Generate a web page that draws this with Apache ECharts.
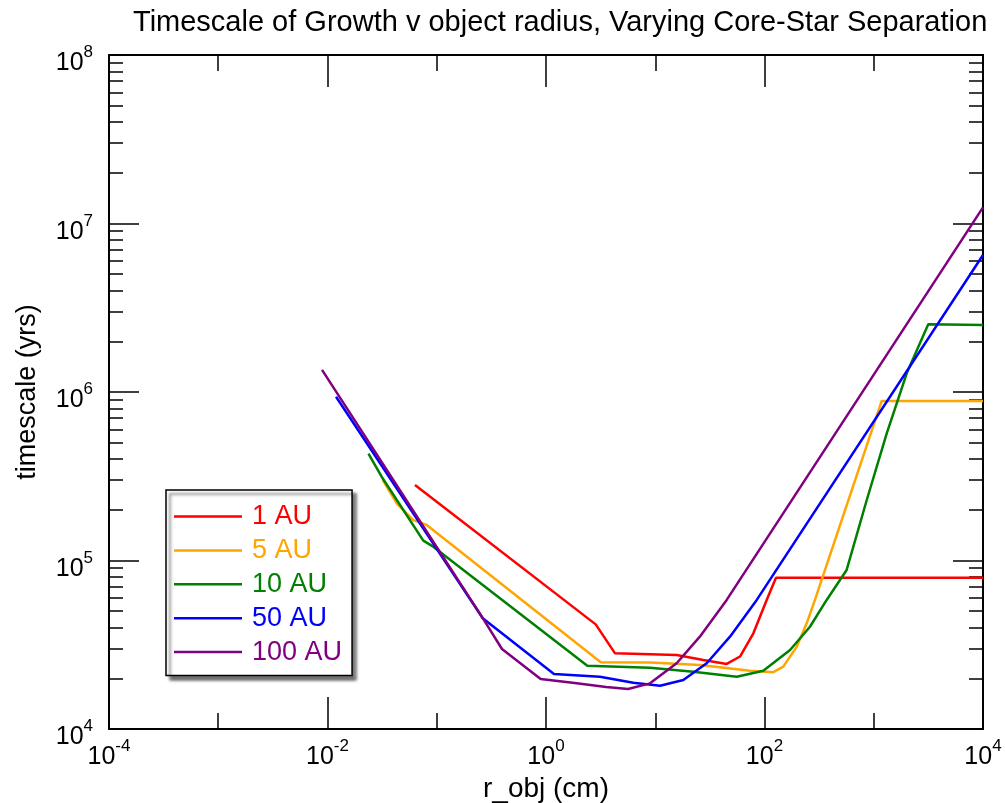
<!DOCTYPE html>
<html>
<head>
<meta charset="utf-8">
<script src="https://cdn.jsdelivr.net/npm/echarts@6/dist/echarts.min.js"></script>
<style>html,body{margin:0;padding:0;background:#fff}#c{width:1005px;height:803px}</style>
</head>
<body>
<div id="c"></div>
<script>
// [r_obj (cm), timescale (yrs)]
const au1 = [[0.0632,2.805e5],[2.851,41780],[4.285,28120],[15.70,27480],[27.54,25640],[45.08,24320],[59.70,26920],[79.07,36980],[104.7,58340],[127.4,79070],[10000,79070]];
const au5 = [[0.0320,3.006e5],[0.0430,2.183e5],[0.0610,1.738e5],[0.0809,1.626e5],[3.170,24890],[8.954,24770],[25.70,23990],[73.62,22180],[120.5,21730],[148.6,23440],[197.2,30760],[243.2,42360],[289.7,58340],[1183,8.85e5],[10000,8.85e5]];
const au10 = [[0.0237,4.305e5],[0.0313,3.141e5],[0.0753,1.312e5],[0.0929,1.208e5],[2.388,23770],[8.954,23120],[22.28,21880],[55.72,20420],[97.5,22180],[171.4,29440],[260.6,40460],[370.7,58340],[564.9,87900],[863,2.286e5],[1315,5.689e5],[2004,1.291e6],[3155,2.523e6],[10000,2.5e6]];
const au50 = [[0.01197,9.376e5],[0.2636,45390],[1.183,21180],[3.119,20420],[6.295,18840],[11.07,18070],[18.07,19540],[29.58,24550],[48.31,35320],[84.92,58340],[10000,6.5e6]];
const au100 = [[0.00891,1.352e6],[0.2594,46240],[0.3954,29850],[0.8933,19820],[1.910,18660],[3.548,17780],[5.636,17260],[8.954,18660],[15.70,24550],[25.59,35320],[45.08,58340],[10000,1.247e7]];
const seriesNames = ['1 AU','5 AU','10 AU','50 AU','100 AU'];
const seriesColors = ['#ff0000','#ffa500','#008000','#0000ff','#800080'];
const xMajor = [1e-4,1e-2,1e0,1e2,1e4];
const xMinor = [1e-3,1e-1,1e1,1e3];
const yMajor = [1e4,1e5,1e6,1e7,1e8];
const yMinor = [];
for (let d = 4; d < 8; d++) for (let k = 2; k <= 9; k++) yMinor.push(k * Math.pow(10, d));

const FONT = 'Liberation Sans';
const fmt = v => '{b|10}{s|' + Math.round(Math.log10(v)) + '}';
const rich = {
  b: {fontSize: 25, fontFamily: FONT, color: '#000', lineHeight: 32, verticalAlign: 'bottom'},
  s: {fontSize: 17, fontFamily: FONT, color: '#000', lineHeight: 17, verticalAlign: 'top'}
};
const lineW = {show: true, lineStyle: {color: '#000', width: 2}};
function xAx(pos, ticks, len, label, line) {
  return {
    type: 'log', logBase: 10, min: 1e-4, max: 1e4, position: pos, gridIndex: 0,
    axisLine: line ? lineW : {show: false},
    axisTick: {show: true, inside: true, length: len, customValues: ticks, lineStyle: {color: '#000', width: 1.5}},
    axisLabel: label ? {show: true, customValues: xMajor, formatter: fmt, rich: rich, margin: 9} : {show: false},
    splitLine: {show: false}, minorTick: {show: false},
    name: label ? 'r_obj (cm)' : '', nameLocation: 'middle', nameGap: 43,
    nameTextStyle: {fontSize: 28, fontFamily: FONT, color: '#000', verticalAlign: 'top'}
  };
}
function yAx(pos, ticks, len, label, line) {
  return {
    type: 'log', logBase: 10, min: 1e4, max: 1e8, position: pos, gridIndex: 0,
    axisLine: line ? lineW : {show: false},
    axisTick: {show: true, inside: true, length: len, customValues: ticks, lineStyle: {color: '#000', width: 1.5}},
    axisLabel: label ? {show: true, customValues: yMajor, formatter: fmt, rich: rich, margin: 16, padding: [10, 0, 0, 0]} : {show: false},
    splitLine: {show: false}, minorTick: {show: false},
    name: label ? 'timescale (yrs)' : '', nameLocation: 'middle', nameGap: 68,
    nameTextStyle: {fontSize: 27, fontFamily: FONT, color: '#000'}
  };
}
const datasets = [au1, au5, au10, au50, au100];
const chart = echarts.init(document.getElementById('c'), null, {renderer: 'canvas'});
chart.setOption({
  animation: false,
  backgroundColor: '#fff',
  title: {
    text: 'Timescale of Growth v object radius, Varying Core-Star Separation',
    left: 128, top: 3,
    textStyle: {fontSize: 29, fontWeight: 'normal', fontFamily: FONT, color: '#000'}
  },
  grid: {left: 109, right: 22, top: 55, bottom: 74, containLabel: false, outerBoundsMode: 'none'},
  xAxis: [
    xAx('bottom', xMajor, 32, true, true),
    xAx('bottom', xMinor, 16, false, false),
    xAx('top', xMajor, 32, false, true),
    xAx('top', xMinor, 16, false, false)
  ],
  yAxis: [
    yAx('left', yMajor, 30, true, true),
    yAx('left', yMinor, 14, false, false),
    yAx('right', yMajor, 30, false, true),
    yAx('right', yMinor, 14, false, false)
  ],
  legend: {
    orient: 'vertical', left: 166, top: 490,
    padding: [13, 10, 10, 8], itemGap: 6.9, itemWidth: 68, itemHeight: 2.5,
    backgroundColor: '#fff', borderColor: '#000', borderWidth: 1.5,
    shadowColor: 'rgba(0,0,0,0.55)', shadowOffsetX: 4, shadowOffsetY: 4, shadowBlur: 3,
    icon: 'rect',
    data: seriesNames.map((n, i) => ({name: n, itemStyle: {color: seriesColors[i]}, textStyle: {color: seriesColors[i]}})),
    textStyle: {fontSize: 27, fontFamily: FONT, lineHeight: 26, padding: [0, 0, 0, 5]}
  },
  series: datasets.map((d, i) => ({
    name: seriesNames[i], type: 'line', data: d,
    xAxisIndex: 0, yAxisIndex: 0,
    showSymbol: false, symbol: 'none',
    lineStyle: {color: seriesColors[i], width: 2.5},
    itemStyle: {color: seriesColors[i]}
  }))
});
</script>
</body>
</html>
